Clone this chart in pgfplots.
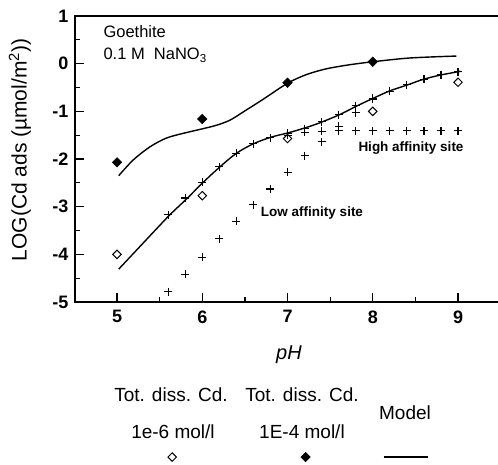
\documentclass[border=0pt]{standalone}
\usepackage{pgfplots}
\pgfplotsset{compat=1.18}
\usepackage{fontspec}
\setmainfont{Liberation Sans}
\pgfplotsset{
  legmark/.style 2 args={legend image code/.code={\path (-#1pt,0pt) (#2pt,0pt); \draw[mark repeat=1,##1] plot coordinates {(0pt,0pt)};}},
  legline/.style 2 args={legend image code/.code={\path (-#1pt,0pt); \draw[##1] (-22pt,0pt) -- (22pt,0pt);}},
}
\begin{document}
\begin{tikzpicture}[x=1pt,y=1pt]
\useasboundingbox (0,0) rectangle (498,-464);
\begin{axis}[
  at={(75pt,-302pt)}, anchor=south west,
  scale only axis, width=430pt, height=286pt,
  xmin=4.507, xmax=9.551, ymin=-5, ymax=1,
  xtick={5,6,7,8,9}, ytick={-5,-4,-3,-2,-1,0,1},
  minor x tick num=1, minor y tick num=1,
  tick align=inside, xtick pos=bottom, ytick pos=left,
  major tick length=9pt, minor tick length=5pt,
  every tick/.append style={line width=1.2pt, black},
  axis line style={line width=1.6pt},
  /pgf/number format/assume math mode=true,
  ticklabel style={font=\bfseries\fontsize{18}{18}\selectfont},
  yticklabel style={xshift=-3pt},
  xticklabel style={yshift=-5pt},
  clip=true,
  legend columns=3,
  legend style={at={(0.17907,-0.542)}, anchor=west, draw=none, fill=none,
    inner sep=0pt, outer sep=0pt, column sep=0pt, row sep=0pt,
    nodes={inner sep=0pt, outer sep=0pt},
    /tikz/every even column/.style={column sep=0pt},
    /tikz/every odd column/.style={column sep=0pt}},
]
% model curves
\addplot[black, line width=1.4pt, smooth, forget plot] coordinates {
(5.02,-2.35)(5.19,-2.02)(5.39,-1.74)(5.58,-1.56)(5.78,-1.46)(5.97,-1.38)(6.17,-1.29)(6.33,-1.18)(6.5,-0.99)(6.72,-0.74)(7.0,-0.41)(7.22,-0.23)(7.45,-0.11)(7.7,-0.03)(8.0,0.04)(8.44,0.12)(8.98,0.16)};
\addplot[black, line width=1.4pt, smooth, forget plot] coordinates {
(5.02,-4.31)(5.23,-3.91)(5.45,-3.49)(5.62,-3.17)(5.82,-2.83)(6.01,-2.49)(6.21,-2.16)(6.40,-1.88)(6.6,-1.68)(6.81,-1.54)(7.01,-1.45)(7.2,-1.35)(7.38,-1.24)(7.61,-1.07)(7.81,-0.89)(8.0,-0.73)(8.2,-0.57)(8.4,-0.45)(8.59,-0.33)(8.79,-0.24)(9.03,-0.16)};
% total sites (model points)
\addplot[only marks, mark=+, mark size=4pt, line width=1.2pt, black, forget plot] coordinates {
(5.6,-3.17)(5.8,-2.82)(6.0,-2.49)(6.2,-2.16)(6.4,-1.88)(6.6,-1.68)(6.8,-1.55)(7.0,-1.46)(7.2,-1.36)(7.4,-1.22)(7.6,-1.07)(7.8,-0.88)(8.0,-0.73)(8.2,-0.58)(8.4,-0.44)(8.6,-0.33)(8.8,-0.23)(9.0,-0.17)};
% high affinity site
\addplot[only marks, mark=+, mark size=4pt, line width=1.2pt, black, forget plot] coordinates {
(7.0,-1.50)(7.2,-1.44)(7.4,-1.42)(7.6,-1.41)(7.8,-1.41)(8.0,-1.41)(8.2,-1.41)(8.4,-1.41)(8.6,-1.41)(8.8,-1.41)(9.0,-1.41)};
% low affinity site
\addplot[only marks, mark=+, mark size=4pt, line width=1.2pt, black, forget plot] coordinates {
(5.6,-4.78)(5.8,-4.42)(6.0,-4.06)(6.2,-3.67)(6.4,-3.31)(6.6,-2.96)(6.8,-2.63)(7.0,-2.28)(7.2,-1.93)(7.4,-1.64)(7.6,-1.31)(7.8,-1.03)(8.0,-0.75)};
% data
\addplot[only marks, mark=square, mark size=3pt, mark options={rotate=45, fill=white, line width=1pt}, black, forget plot] coordinates {
(5,-4.0)(6,-2.77)(7,-1.57)(8,-1.0)(9,-0.39)};
\addplot[only marks, mark=square*, mark size=3.4pt, mark options={rotate=45}, black, forget plot] coordinates {
(5,-2.07)(6,-1.16)(7,-0.40)(8,0.04)};
% legend
\addlegendimage{legmark={20}{20}, only marks, mark=square, mark size=3pt, mark options={rotate=45, fill=white, line width=1pt}, black}
\addlegendentry{\hbox{}}
\addlegendimage{legmark={112}{20}, only marks, mark=square*, mark size=3.4pt, mark options={rotate=45}, black}
\addlegendentry{\hbox{}}
\addlegendimage{legline={78}{22}, black, line width=1.4pt}
\addlegendentry{\hbox{}}
\end{axis}
\node[anchor=west, font=\fontsize{16.5}{16.5}\selectfont] at (100,-32) {Goethite};
\node[anchor=west, font=\fontsize{16.5}{16.5}\selectfont] at (100,-55) {0.1 M\ \ NaNO\textsubscript{3}};
\node[font=\bfseries\fontsize{13.5}{13.5}\selectfont] at (411,-148) {High affinity site};
\node[font=\bfseries\fontsize{13.5}{13.5}\selectfont] at (312,-213) {Low affinity site};
\node[font=\itshape\fontsize{20}{20}\selectfont] at (289,-355) {pH};
\node[rotate=90, font=\fontsize{21}{21}\selectfont] at (20,-150) {LOG(Cd ads (µmol/m\textsuperscript{2}))};
\node[font=\fontsize{19}{19}\selectfont] at (171,-395) {Tot. diss. Cd.};
\node[font=\fontsize{19}{19}\selectfont] at (302,-395) {Tot. diss. Cd.};
\node[font=\fontsize{19}{19}\selectfont] at (173,-432) {1e-6 mol/l};
\node[font=\fontsize{19}{19}\selectfont] at (302,-432) {1E-4 mol/l};
\node[font=\fontsize{19}{19}\selectfont] at (405,-413) {Model};
\end{tikzpicture}
\end{document}
